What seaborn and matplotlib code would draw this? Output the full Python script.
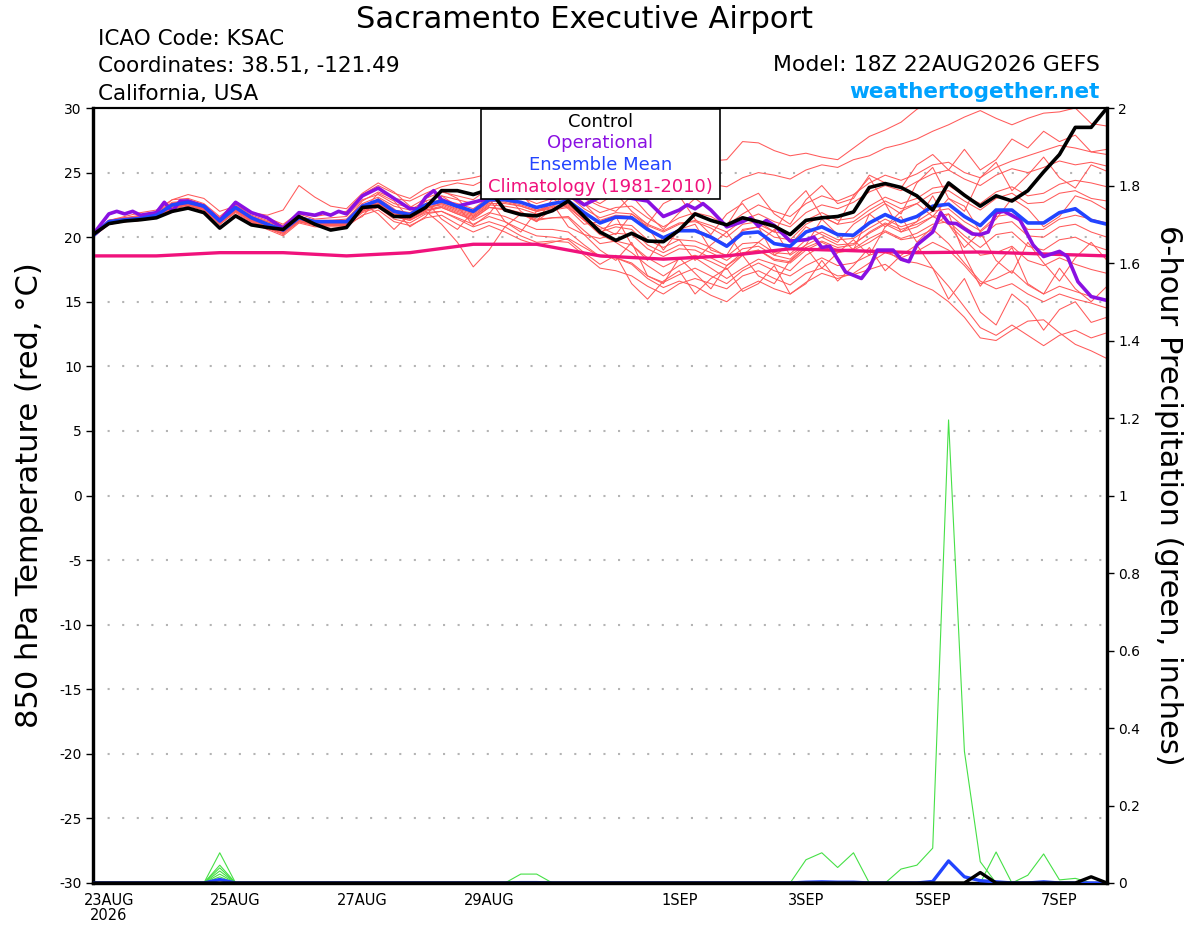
import numpy as np
import pandas as pd
import matplotlib
matplotlib.use("Agg")
import matplotlib.pyplot as plt
import seaborn as sns
from matplotlib.patches import Rectangle

# ---------------- data ----------------
RUN_START = "2026-08-22 18:00"
fhours = list(range(0, 385, 6))          # 6-hourly forecast hours (65 steps)

ens_mean = [20.1,21.2,21.35,21.45,21.7,22.5,22.7,22.4,21.25,22.3,21.5,21.0,20.55,21.5,21.2,21.2,21.2,
            22.4,22.85,22.0,21.75,22.5,22.8,22.4,22.0,22.9,22.9,22.7,22.3,22.6,22.8,21.9,
            21.1,21.55,21.5,20.6,19.95,20.5,20.5,20.0,19.3,20.3,20.4,19.5,19.3,20.4,20.8,20.2,20.15,
            21.1,21.75,21.2,21.6,22.4,22.55,21.6,20.9,22.1,22.1,21.1,21.1,21.9,22.2,21.3,21.0]

control = [20.2,21.05,21.25,21.35,21.5,22.0,22.25,21.9,20.7,21.65,20.95,20.75,20.6,21.6,21.0,20.55,20.75,
           22.3,22.4,21.6,21.6,22.3,23.6,23.6,23.3,23.7,22.1,21.75,21.65,22.05,22.8,21.6,
           20.4,19.75,20.3,19.7,19.65,20.55,21.8,21.3,20.95,21.5,21.2,20.85,20.2,21.3,21.5,21.6,21.95,
           23.85,24.15,23.85,23.2,22.1,24.2,23.25,22.4,23.2,22.8,23.6,25.05,26.4,28.5,28.5,30.0]

oper_hours = [0,6,9,12,15,18,24,27,30,33,36,42,48,54,60,66,72,78,84,87,90,93,96,102,108,114,
              120,123,126,129,132,138,144,150,156,162,168,174,180,186,192,198,204,210,216,222,
              225,228,231,234,240,246,249,252,255,258,264,270,273,276,279,285,291,294,297,300,
              303,306,309,312,318,321,324,327,333,336,339,342,345,351,356,360,366,369,373,378,384]
oper_temp = [20.2,21.8,22.0,21.8,22.0,21.7,21.9,22.7,22.0,22.8,22.8,22.4,21.3,22.7,21.9,21.5,
             20.7,21.9,21.7,21.9,21.7,22.0,21.8,23.2,23.8,23.0,22.2,22.2,23.1,23.6,22.9,22.4,
             22.7,23.0,23.5,23.3,23.2,23.0,23.3,22.5,23.1,23.3,23.0,22.8,21.6,22.1,22.5,22.2,
             22.6,22.1,20.8,21.2,21.5,20.85,21.3,20.9,19.7,19.8,20.0,19.2,19.3,17.3,16.8,17.6,
             19.0,19.0,19.0,18.3,18.1,19.4,20.4,21.9,21.1,21.05,20.25,20.2,20.4,21.9,22.0,21.35,
             19.4,18.5,18.9,18.5,16.55,15.4,15.1]

clim_hours = [0,24,48,72,96,120,144,168,192,216,240,264,288,312,336,360,384]
clim_temp = [18.55,18.55,18.8,18.8,18.55,18.8,19.45,19.45,18.55,18.3,18.55,19.1,18.95,18.8,18.85,18.7,18.55]

members = {
 "m01": [20.2,21.3,21.5,21.7,21.9,22.9,23.0,22.6,21.6,22.6,21.9,21.5,21.0,21.9,21.6,21.8,22.0,
         23.3,24.0,23.4,23.0,23.8,24.3,24.4,24.6,24.9,25.2,25.0,24.8,25.2,25.5,25.3,
         25.8,26.1,25.9,26.3,26.5,26.2,25.8,25.9,26.0,27.4,27.3,26.7,26.3,26.5,26.2,26.0,26.9,27.8,28.3,28.9,
         29.9,30.5,31.0,31.2,31.0,31.3,31.5,31.2,31.6,31.8,31.5,31.9,32.0],
 "m02": [20.0,21.0,21.2,21.3,21.6,22.3,22.6,22.3,21.0,22.0,21.3,20.9,20.4,21.2,21.0,21.1,21.3,
         22.8,23.5,23.0,22.8,23.4,23.9,24.2,24.0,24.6,24.8,24.5,24.2,24.6,25.0,24.3,
         24.0,24.4,24.2,23.8,23.5,24.0,24.4,24.1,23.9,24.6,25.0,24.8,24.5,25.2,25.6,25.4,26.0,26.3,26.9,27.2,
         27.6,28.2,28.7,29.3,29.8,29.2,28.7,29.2,29.6,29.7,30.0,28.8,28.6],
 "m03": [20.1,21.1,21.4,21.5,21.8,22.6,22.9,22.5,21.4,22.4,21.6,21.2,20.8,21.6,21.3,21.3,21.4,
         22.6,23.1,22.4,22.1,22.8,23.2,22.9,22.6,23.4,23.6,23.3,23.0,23.5,23.8,23.0,
         22.4,22.0,23.2,21.8,20.6,21.9,23.0,22.1,20.9,22.8,23.4,21.8,21.0,22.9,24.0,22.6,23.0,24.8,24.2,23.8,
         25.6,26.4,25.2,26.8,25.2,26.0,27.6,26.9,28.2,27.4,27.9,26.6,26.8],
 "m04": [20.2,21.2,21.3,21.4,21.7,22.4,22.6,22.2,21.1,22.2,21.4,21.0,20.6,21.4,21.1,21.0,21.1,
         22.3,22.7,21.9,21.5,22.3,22.6,22.2,21.8,22.7,23.0,23.2,22.9,23.3,23.6,22.6,
         21.9,22.3,22.4,21.5,20.8,21.5,21.9,21.6,20.9,21.8,22.5,22.0,21.6,22.6,23.2,22.8,23.3,24.2,24.8,24.4,
         24.9,25.6,25.8,25.0,24.6,25.4,25.9,26.3,26.7,27.1,26.9,26.6,26.4],
 "m05": [20.0,21.1,21.2,21.3,21.5,22.2,22.5,22.1,21.0,22.1,21.2,20.7,20.3,21.2,20.9,21.0,21.0,
         21.6,23.0,22.2,20.8,21.6,23.2,22.4,20.9,21.8,23.4,22.0,21.2,23.0,22.2,21.0,
         21.2,21.6,21.4,20.9,20.4,21.0,21.3,20.9,20.4,21.3,21.8,21.2,20.8,21.9,22.5,22.2,22.7,23.5,24.0,23.6,
         24.3,24.9,25.2,24.5,24.0,24.8,25.3,25.0,25.4,25.9,25.6,25.8,25.5],
 "m06": [20.1,21.3,21.5,21.6,21.9,22.7,22.8,22.5,21.5,22.5,21.7,21.3,20.9,21.8,21.4,21.5,21.6,
         22.9,23.3,22.6,22.3,23.0,23.5,23.2,22.9,23.8,24.0,23.6,23.3,23.8,24.2,23.2,
         22.6,23.4,22.0,21.0,22.6,23.2,21.4,20.2,21.8,22.6,21.0,20.4,22.4,23.6,21.6,21.0,23.2,24.6,22.6,21.8,
         24.2,25.4,23.0,22.0,24.6,25.8,23.6,24.8,26.2,24.6,23.8,25.6,25.1],
 "m07": [20.2,21.0,21.2,21.4,21.6,22.4,22.5,22.2,21.2,22.2,21.5,21.0,20.5,21.5,21.2,21.1,21.2,
         22.4,22.9,22.1,21.9,22.6,22.9,22.6,22.2,23.1,23.3,23.1,22.6,23.0,23.2,22.2,
         21.5,21.9,21.8,21.0,20.5,21.1,21.2,20.7,20.0,21.0,21.2,20.4,20.2,21.3,21.9,21.3,21.5,22.4,23.1,22.6,
         23.0,23.8,24.0,23.2,22.6,23.5,23.9,23.2,23.4,24.1,24.4,24.2,23.9],
 "m08": [20.1,21.2,21.4,21.5,21.8,22.5,22.7,22.4,21.3,22.4,21.6,21.1,20.7,21.6,21.3,21.3,21.3,
         22.0,23.4,22.8,21.4,22.2,23.6,23.0,21.6,22.4,24.0,23.4,22.0,22.4,23.6,22.6,
         21.3,21.7,21.6,20.7,20.0,20.6,20.6,20.1,19.4,20.5,20.8,20.0,19.8,21.0,21.6,21.0,21.2,22.1,22.8,22.2,
         22.6,23.4,23.6,22.8,22.1,23.0,23.4,22.6,22.7,23.4,23.6,23.0,22.8],
 "m09": [20.0,21.1,21.3,21.4,21.6,22.3,22.6,22.3,21.1,22.1,21.3,20.8,20.4,21.3,21.0,21.1,21.0,
         22.2,22.7,21.8,21.6,22.2,22.6,22.1,21.7,22.6,22.6,22.4,22.0,22.3,22.5,21.5,
         20.8,20.2,21.8,20.8,19.0,20.6,21.0,19.0,18.6,20.6,20.8,18.6,19.4,20.8,20.2,19.6,21.0,21.8,20.8,22.0,
         22.6,21.6,23.0,22.4,20.4,21.4,23.0,22.2,20.8,21.6,23.2,22.8,22.1],
 "m10": [20.2,21.3,21.4,21.5,21.7,22.5,22.8,22.5,21.4,22.3,21.6,21.2,20.8,21.6,21.2,21.3,21.2,
         22.4,22.8,22.0,21.8,22.4,22.7,22.3,21.9,22.8,22.8,22.5,22.1,22.4,22.5,21.6,
         20.6,21.0,20.9,19.8,19.2,19.8,19.7,19.2,18.5,19.5,19.6,18.8,18.7,19.8,20.4,19.8,19.9,20.7,21.4,20.8,
         21.2,22.0,22.2,21.2,20.5,21.6,21.8,20.6,20.6,21.4,21.7,21.4,21.1],
 "m11": [20.1,21.2,21.3,21.4,21.7,22.6,22.7,22.3,21.2,22.2,21.4,20.9,20.5,21.4,21.1,21.2,21.1,
         22.2,22.6,21.8,21.5,22.3,22.5,22.0,21.6,22.5,22.4,22.2,21.8,22.1,22.3,21.3,
         20.4,20.8,20.6,19.4,18.8,19.4,19.3,18.8,18.2,19.1,19.3,18.6,18.3,19.4,20.0,19.4,19.5,20.3,21.0,20.4,
         20.8,21.6,21.8,20.8,20.0,21.0,21.2,20.1,20.0,20.8,21.0,20.4,20.0],
 "m12": [20.0,21.1,21.2,21.3,21.5,22.3,22.5,22.2,21.0,22.0,21.2,20.7,20.2,21.2,20.9,20.9,20.9,
         22.6,21.8,20.6,21.8,22.8,21.4,20.6,22.0,23.0,21.2,20.4,22.0,22.6,20.8,20.2,
         19.9,20.3,20.2,19.1,18.5,19.1,19.0,18.4,17.8,18.8,19.0,18.2,18.0,19.0,19.6,19.0,19.1,19.9,20.5,19.9,
         20.3,21.0,21.2,20.1,19.2,20.2,20.4,19.3,19.0,19.8,20.0,19.4,19.0],
 "m13": [20.2,21.2,21.4,21.5,21.8,22.6,22.8,22.4,21.3,22.3,21.5,21.0,20.6,21.5,21.2,21.2,21.3,
         22.3,22.8,22.1,21.8,22.5,22.8,22.3,21.9,22.8,22.7,22.4,22.0,22.2,22.4,21.3,
         20.2,21.6,19.4,18.2,20.0,19.8,18.2,19.4,20.4,18.6,19.6,20.6,18.6,19.4,21.4,20.2,19.0,21.8,22.6,20.4,
         21.2,23.2,21.0,19.2,20.4,18.2,17.2,19.6,18.0,16.6,18.4,19.6,18.2],
 "m14": [20.1,21.0,21.2,21.3,21.5,22.3,22.6,22.3,21.1,22.1,21.3,20.8,20.4,21.3,21.0,21.0,21.0,
         22.0,22.5,21.6,21.3,22.0,22.3,21.8,21.4,22.3,22.1,21.8,21.3,21.5,21.6,20.5,
         19.5,19.7,19.4,18.4,17.7,18.3,18.6,18.1,17.5,18.6,19.0,18.3,18.1,19.2,19.7,19.2,19.4,20.4,21.1,20.6,
         21.0,21.6,21.0,19.8,18.6,18.8,19.3,18.2,17.8,18.4,17.9,17.5,17.2],
 "m15": [20.0,21.1,21.3,21.4,21.6,22.4,22.6,22.2,21.2,22.2,21.4,20.9,20.4,21.4,21.1,21.1,21.1,
         22.1,22.5,21.7,21.4,22.1,22.4,21.9,21.5,22.3,22.2,21.9,21.4,21.5,21.5,20.2,
         19.0,18.2,19.6,17.0,16.4,18.4,17.2,16.0,17.8,18.6,17.0,16.4,18.2,19.2,17.6,18.8,19.8,18.6,20.8,21.6,
         19.6,20.8,21.8,18.6,16.2,17.8,19.2,16.4,15.6,17.6,16.0,15.0,16.2],
 "m16": [20.2,21.3,21.5,21.6,21.8,22.5,22.7,22.4,21.3,22.3,21.4,20.9,20.5,21.4,21.1,21.1,21.2,
         22.2,22.6,21.8,21.5,22.1,22.3,21.8,21.3,21.9,21.6,21.1,20.6,20.6,20.4,19.4,
         18.5,18.4,17.9,16.8,16.1,16.6,16.2,15.5,15.0,16.0,16.6,16.0,15.6,16.5,17.2,16.8,17.2,18.0,18.8,18.4,
         18.9,19.6,19.0,17.8,16.4,16.8,17.4,16.3,15.6,16.2,15.8,15.4,15.1],
 "m17": [20.1,21.1,21.3,21.4,21.6,22.4,22.5,22.1,21.0,22.0,21.2,20.7,20.3,21.3,21.0,21.0,20.9,
         21.9,22.3,21.4,21.1,21.8,22.0,21.5,21.0,21.6,21.2,20.6,20.1,20.0,19.8,18.8,
         17.9,18.6,16.4,15.2,16.6,17.4,15.6,16.8,17.6,15.8,16.4,17.8,15.6,16.4,18.2,16.6,17.8,19.2,17.4,18.6,
         19.4,17.6,15.2,16.8,14.2,13.2,15.6,14.6,12.8,14.4,15.0,13.4,13.8],
 "m18": [20.0,21.0,21.2,21.3,21.5,22.2,22.4,22.1,21.0,21.9,21.1,20.6,20.1,21.1,20.8,20.8,20.8,
         21.7,22.1,21.2,20.9,21.5,21.7,21.0,20.4,20.9,20.4,19.8,19.4,19.6,19.9,19.2,
         18.5,18.4,18.0,17.0,16.5,17.1,17.6,17.0,16.4,17.4,18.0,17.4,17.0,17.8,18.4,17.8,18.0,18.6,19.0,18.2,
         18.0,17.6,16.2,14.6,13.0,12.4,13.2,12.4,11.6,12.4,12.8,12.2,12.6],
 "m19": [20.2,21.2,21.4,21.5,21.7,22.4,22.6,22.3,21.2,22.2,21.4,20.9,20.5,21.4,21.1,21.1,21.1,
         22.0,22.4,21.6,21.3,21.9,22.0,21.4,20.8,21.2,20.8,20.1,19.6,19.7,19.6,18.6,
         17.6,17.4,17.0,16.2,15.6,16.4,16.8,16.4,16.0,17.0,17.4,16.8,16.3,17.2,17.6,17.0,17.1,17.5,17.9,17.0,
         16.4,15.9,15.0,13.8,12.2,12.0,12.8,13.5,13.6,12.6,11.7,11.2,10.6],
 "m20": [20.1,21.3,21.6,21.9,22.1,22.9,23.3,23.0,22.0,22.4,21.9,21.7,22.1,24.0,23.1,22.4,22.2,
         23.4,24.2,23.5,22.4,22.0,21.0,19.6,17.7,19.0,20.8,21.8,21.2,22.2,22.6,21.4,
         20.2,19.6,18.8,17.8,17.0,17.8,18.4,17.6,16.8,17.6,18.3,17.9,17.4,18.6,19.3,18.8,19.0,19.6,20.4,19.8,
         20.0,20.6,19.5,18.0,16.6,16.0,16.4,15.6,15.0,15.6,15.2,14.9,14.5],
}

# 6-hour precipitation (inches)
precip_mean = [0,0,0,0,0,0,0,0,0.009,0,
               0,0,0,0,0,0,0,0,0,0,
               0,0,0,0,0,0,0,0.001,0.001,0,
               0,0,0,0,0,0,0,0,0,0,
               0,0,0,0,0,0.002,0.003,0.002,0.002,0,
               0,0,0,0.004,0.057,0.016,0.006,0.003,0,0,
               0.003,0,0,0,0]
precip_ctrl = [0,0,0,0,0,0,0,0,0,0,
               0,0,0,0,0,0,0,0,0,0,
               0,0,0,0,0,0,0,0,0,0,
               0,0,0,0,0,0,0,0,0,0,
               0,0,0,0,0,0,0,0,0,0,
               0,0,0,0,0,0,0.027,0,0,0,
               0,0,0,0.016,0]
precip_members = {
 "p1": [0,0,0,0,0,0,0,0,0.078,0,
        0,0,0,0,0,0,0,0,0,0,
        0,0,0,0,0,0,0,0.023,0.023,0,
        0,0,0,0,0,0,0,0,0,0,
        0,0,0,0,0,0.06,0.078,0.04,0.078,0,
        0,0.036,0.046,0.09,1.195,0.34,0.055,0,0,0,
        0,0,0,0,0],
 "p2": [0,0,0,0,0,0,0,0,0.046,0,
        0,0,0,0,0,0,0,0,0,0,
        0,0,0,0,0,0,0,0,0,0,
        0,0,0,0,0,0,0,0,0,0,
        0,0,0,0,0,0,0,0,0,0,
        0,0,0,0,0,0,0,0.08,0,0.02,
        0.075,0.008,0.012,0,0],
 "p3": [0,0,0,0,0,0,0,0,0.039,0] + [0]*55,
 "p4": [0,0,0,0,0,0,0,0,0.031,0] + [0]*55,
 "p5": [0,0,0,0,0,0,0,0,0.023,0] + [0]*55,
 "p6": [0,0,0,0,0,0,0,0,0.016,0] + [0]*55,
}

temp_ticks = [-30, -25, -20, -15, -10, -5, 0, 5, 10, 15, 20, 25, 30]
precip_ticks = [0, 0.2, 0.4, 0.6, 0.8, 1, 1.2, 1.4, 1.6, 1.8, 2]
precip_tick_labels = ["0", "0.2", "0.4", "0.6", "0.8", "1", "1.2", "1.4", "1.6", "1.8", "2"]
date_ticks = ["2026-08-23", "2026-08-25", "2026-08-27", "2026-08-29",
              "2026-09-01", "2026-09-03", "2026-09-05", "2026-09-07"]
date_labels = ["23AUG\n2026", "25AUG", "27AUG", "29AUG", "1SEP", "3SEP", "5SEP", "7SEP"]

# ---------------- styling ----------------
RED = "#ff5a5a"
GREEN = "#46e046"
PINK = "#f0127c"
PURPLE = "#8a10e2"
BLUE = "#2244ff"
SKY = "#00a2ff"

sns.set_style("white")
plt.rcParams["font.family"] = ["DejaVu Sans"]
plt.rcParams["text.color"] = "black"
plt.rcParams["axes.labelcolor"] = "black"
plt.rcParams["xtick.color"] = "black"
plt.rcParams["ytick.color"] = "black"

W, H = 1200, 927
fig = plt.figure(figsize=(W / 100, H / 100), dpi=100)
fx = lambda x: x / W
fy = lambda y: 1 - y / H
L, R, T, B = 93, 1107, 108, 883
ax = fig.add_axes([fx(L), fy(B), (R - L) / W, (B - T) / H])
ax2 = ax.twinx()

start = pd.Timestamp(RUN_START)
times = start + pd.to_timedelta(fhours, unit="h")
oper_times = start + pd.to_timedelta(oper_hours, unit="h")
clim_times = start + pd.to_timedelta(clim_hours, unit="h")

mem_df = pd.DataFrame([(k, t, v) for k, vals in members.items() for t, v in zip(times, vals)],
                      columns=["member", "time", "temp"])
pm_df = pd.DataFrame([(k, t, v) for k, vals in precip_members.items() for t, v in zip(times, vals)],
                     columns=["member", "time", "precip"])

# temperature (left axis)
sns.lineplot(data=mem_df, x="time", y="temp", units="member", estimator=None,
             color=RED, lw=0.75, legend=False, ax=ax, zorder=2)
sns.lineplot(x=clim_times, y=clim_temp, color=PINK, lw=2.4, ax=ax, zorder=3, errorbar=None)
sns.lineplot(x=oper_times, y=oper_temp, color=PURPLE, lw=2.6, ax=ax, zorder=4, errorbar=None)
sns.lineplot(x=times, y=ens_mean, color=BLUE, lw=2.6, ax=ax, zorder=5, errorbar=None)
sns.lineplot(x=times, y=control, color="black", lw=2.6, ax=ax, zorder=6, errorbar=None)

# precipitation (right axis)
sns.lineplot(data=pm_df, x="time", y="precip", units="member", estimator=None,
             color=GREEN, lw=0.8, legend=False, ax=ax2, zorder=2)
sns.lineplot(x=times, y=precip_mean, color=BLUE, lw=2.4, ax=ax2, zorder=4, errorbar=None)
sns.lineplot(x=times, y=precip_ctrl, color="black", lw=2.4, ax=ax2, zorder=5, errorbar=None)

ax.set_xlim(times[0], times[-1])
ax.set_ylim(-30, 30)
ax2.set_ylim(0, 2)
ax.set_xlabel("")
ax.set_ylabel("")
ax2.set_ylabel("")

ax.set_yticks(temp_ticks)
ax.set_yticklabels([str(t) for t in temp_ticks])
ax2.set_yticks(precip_ticks)
ax2.set_yticklabels(precip_tick_labels)
ax.set_xticks(pd.to_datetime(date_ticks))
ax.set_xticklabels(date_labels, linespacing=1.05)

ax.grid(True, axis="y", color="#b4b4b4", lw=1.5, linestyle=(0, (1, 6)))
ax.grid(False, axis="x")
ax2.grid(False)
ax.set_axisbelow(True)

ax.tick_params(axis="y", direction="out", length=5, width=1, labelsize=10, pad=3,
               colors="black")
ax2.tick_params(axis="y", direction="out", length=5, width=1, labelsize=10, pad=3,
                colors="black")
ax.tick_params(axis="x", direction="out", length=4, width=1, labelsize=10.5, pad=3,
               color="#666666", labelcolor="black")

for a in (ax, ax2):
    for side, s in a.spines.items():
        s.set_visible(True)
        s.set_color("black")
        s.set_linewidth(1.5 if side == "top" else 2.3)

# header texts
fig.text(fx(585), fy(28), "Sacramento Executive Airport", ha="center", va="baseline", fontsize=22)
fig.text(fx(98), fy(45), "ICAO Code: KSAC", ha="left", va="baseline", fontsize=15.5)
fig.text(fx(98), fy(72.5), "Coordinates: 38.51, -121.49", ha="left", va="baseline", fontsize=15.5)
fig.text(fx(98), fy(99.5), "California, USA", ha="left", va="baseline", fontsize=15.5)
fig.text(fx(1100), fy(71), "Model: 18Z 22AUG2026 GEFS", ha="right", va="baseline", fontsize=15.8)
fig.text(fx(1100), fy(97.5), "weathertogether.net", ha="right", va="baseline",
         fontsize=15.5, fontweight="bold", color=SKY)

# axis titles
fig.text(fx(30), fy(495), "850 hPa Temperature (red, °C)", rotation=90,
         ha="center", va="center", fontsize=22)
fig.text(fx(1169), fy(495), "6-hour Precipitation (green, inches)", rotation=-90,
         ha="center", va="center", fontsize=22)

# legend box
box = Rectangle((fx(481), fy(198.5)), (720 - 481) / W, (198.5 - 109) / H,
                transform=fig.transFigure, facecolor="white", edgecolor="black", lw=1.2, zorder=5)
fig.add_artist(box)
for txt, col, yb in [("Control", "black", 127), ("Operational", PURPLE, 148),
                     ("Ensemble Mean", BLUE, 170), ("Climatology (1981-2010)", PINK, 192)]:
    fig.text(fx(600.5), fy(yb), txt, ha="center", va="baseline", fontsize=13, color=col, zorder=6)

fig.savefig("out.png", dpi=100)
